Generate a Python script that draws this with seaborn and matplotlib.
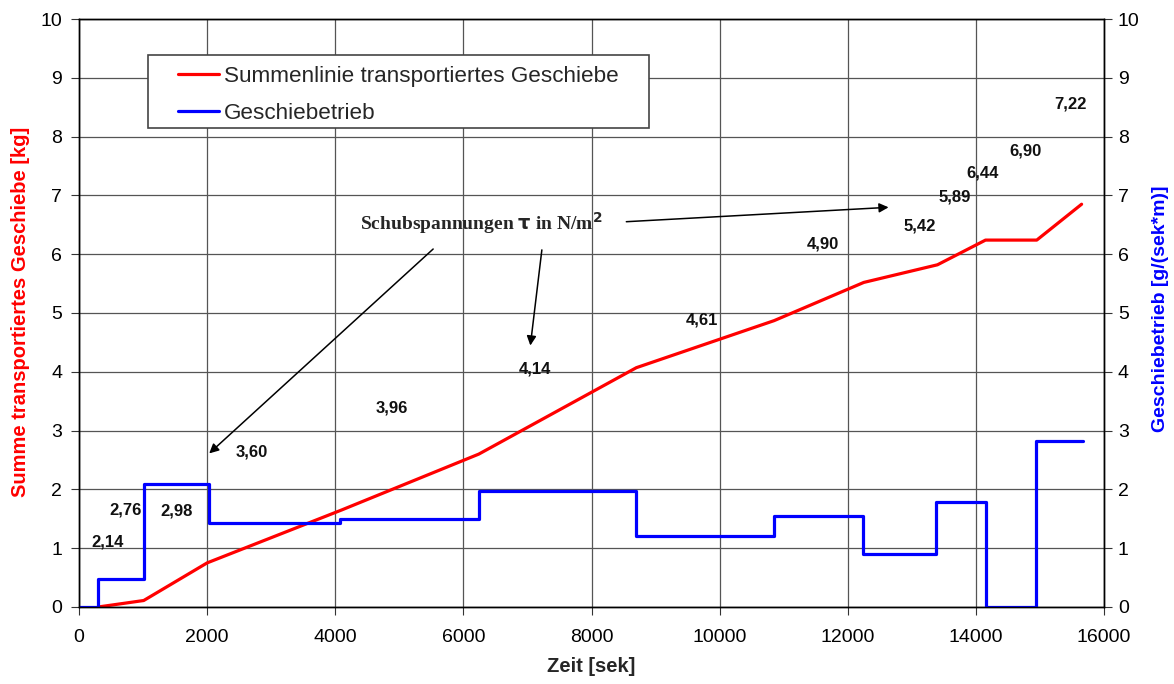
import matplotlib
matplotlib.use("Agg")
import matplotlib.pyplot as plt
from matplotlib.patches import Rectangle
import seaborn as sns
import pandas as pd

# ---- data ----
sum_x = [300, 1010, 2000, 4100, 6240, 8700, 10850, 12250, 13400, 14150, 14950, 15650]
sum_y = [0.0, 0.11, 0.75, 1.65, 2.60, 4.07, 4.87, 5.52, 5.82, 6.24, 6.24, 6.85]

rate_x = [0, 300, 1010, 2030, 4080, 6240, 8700, 10850, 12240, 13380, 14160, 14940, 15670]
rate_y = [0, 0.48, 2.10, 1.42, 1.50, 1.97, 1.21, 1.54, 0.90, 1.78, 0.0, 2.83, 2.83]

tau_labels = ["2,14", "2,76", "2,98", "3,60", "3,96", "4,14", "4,61", "4,90",
              "5,42", "5,89", "6,44", "6,90", "7,22"]
tau_x = [440, 734, 1516, 2690, 4890, 7110, 9730, 11610, 13125, 13670, 14110, 14770, 15470]
tau_y = [1.10, 1.65, 1.63, 2.64, 3.38, 4.05, 4.88, 6.17, 6.48, 6.97, 7.38, 7.75, 8.55]

x_ticks = [0, 2000, 4000, 6000, 8000, 10000, 12000, 14000, 16000]
y_ticks = list(range(0, 11))

sns.set_theme(style="white")
plt.rcParams['font.family'] = ['Liberation Sans', 'DejaVu Sans']

fig = plt.figure(figsize=(11.74, 6.84), dpi=100)
ax = fig.add_axes([0.0673, 0.1126, 0.9404 - 0.0673, 0.9722 - 0.1126])
ax2 = ax.twinx()

df_sum = pd.DataFrame({"x": sum_x, "y": sum_y})
df_rate = pd.DataFrame({"x": rate_x, "y": rate_y})

sns.lineplot(data=df_sum, x="x", y="y", ax=ax, color="#ff0000", linewidth=2.3,
             label="Summenlinie transportiertes Geschiebe", legend=False)
sns.lineplot(data=df_rate, x="x", y="y", ax=ax2, color="#0000ff", linewidth=2.3,
             drawstyle="steps-post", label="Geschiebetrieb", legend=False)

for a in (ax, ax2):
    a.set_ylim(0, 10)
    a.set_yticks(y_ticks)
    a.set_yticklabels([str(t) for t in y_ticks], fontsize=14)
ax.set_xlim(0, 16000)
ax.set_xticks(x_ticks)
ax.set_xticklabels([str(t) for t in x_ticks], fontsize=14)

ax.grid(True, color="#555555", linewidth=0.9)
ax.set_axisbelow(True)
for a in (ax, ax2):
    a.tick_params(axis="both", direction="out", length=6, width=0.8, color="#333333",
                  labelcolor="black")
    for s in a.spines.values():
        s.set_color("black")
        s.set_linewidth(1.0)
ax.tick_params(axis="x", bottom=True, length=6, pad=10)
ax.tick_params(axis="y", left=True, pad=6)
ax2.tick_params(axis="y", right=True, pad=4)

ax.set_xlabel("Zeit [sek]", fontsize=14.5, fontweight="bold", labelpad=8)
ax.set_ylabel("Summe transportiertes Geschiebe [kg]", fontsize=14.5, fontweight="bold",
              color="#ff0000")
ax2.set_ylabel("Geschiebetrieb [g/(sek*m)]", fontsize=14, fontweight="bold",
               color="#0000ff")
ax.yaxis.set_label_coords(-0.0478, 0.502)
ax2.yaxis.set_label_coords(1.0468, 0.508)

for lab, xx, yy in zip(tau_labels, tau_x, tau_y):
    ax.text(xx, yy, lab, fontsize=12, fontweight="bold", ha="center", va="center",
            color="#111111")

ax.text(6280, 6.53, r"Schubspannungen $\mathbf{\tau}$ in N/m$^\mathbf{2}$", fontsize=14,
        fontweight="bold", ha="center", va="center", family="Liberation Serif")
ax.annotate("", xy=(2000, 2.58), xytext=(5560, 6.12),
            arrowprops=dict(arrowstyle="-|>", color="black", lw=1.1, mutation_scale=14))
ax.annotate("", xy=(7040, 4.4), xytext=(7230, 6.12),
            arrowprops=dict(arrowstyle="-|>", color="black", lw=1.1, mutation_scale=14))
ax.annotate("", xy=(12680, 6.8), xytext=(8500, 6.55),
            arrowprops=dict(arrowstyle="-|>", color="black", lw=1.1, mutation_scale=14))

# legend frame
ax2.add_patch(Rectangle((0.0673, 0.8146), 0.556 - 0.0673, 0.9388 - 0.8146,
                        transform=ax2.transAxes, facecolor="white", edgecolor="#444444",
                        linewidth=1.2, zorder=4))
h1, l1 = ax.get_legend_handles_labels()
h2, l2 = ax2.get_legend_handles_labels()
leg = ax2.legend(h1 + h2, l1 + l2, loc="upper left", bbox_to_anchor=(0.0966, 0.920),
                 fontsize=16.2, frameon=False, borderpad=0, handlelength=1.82,
                 handletextpad=0.22, labelspacing=0.72, borderaxespad=0)
leg.set_zorder(5)

fig.savefig("out.png", dpi=100, facecolor="white")
